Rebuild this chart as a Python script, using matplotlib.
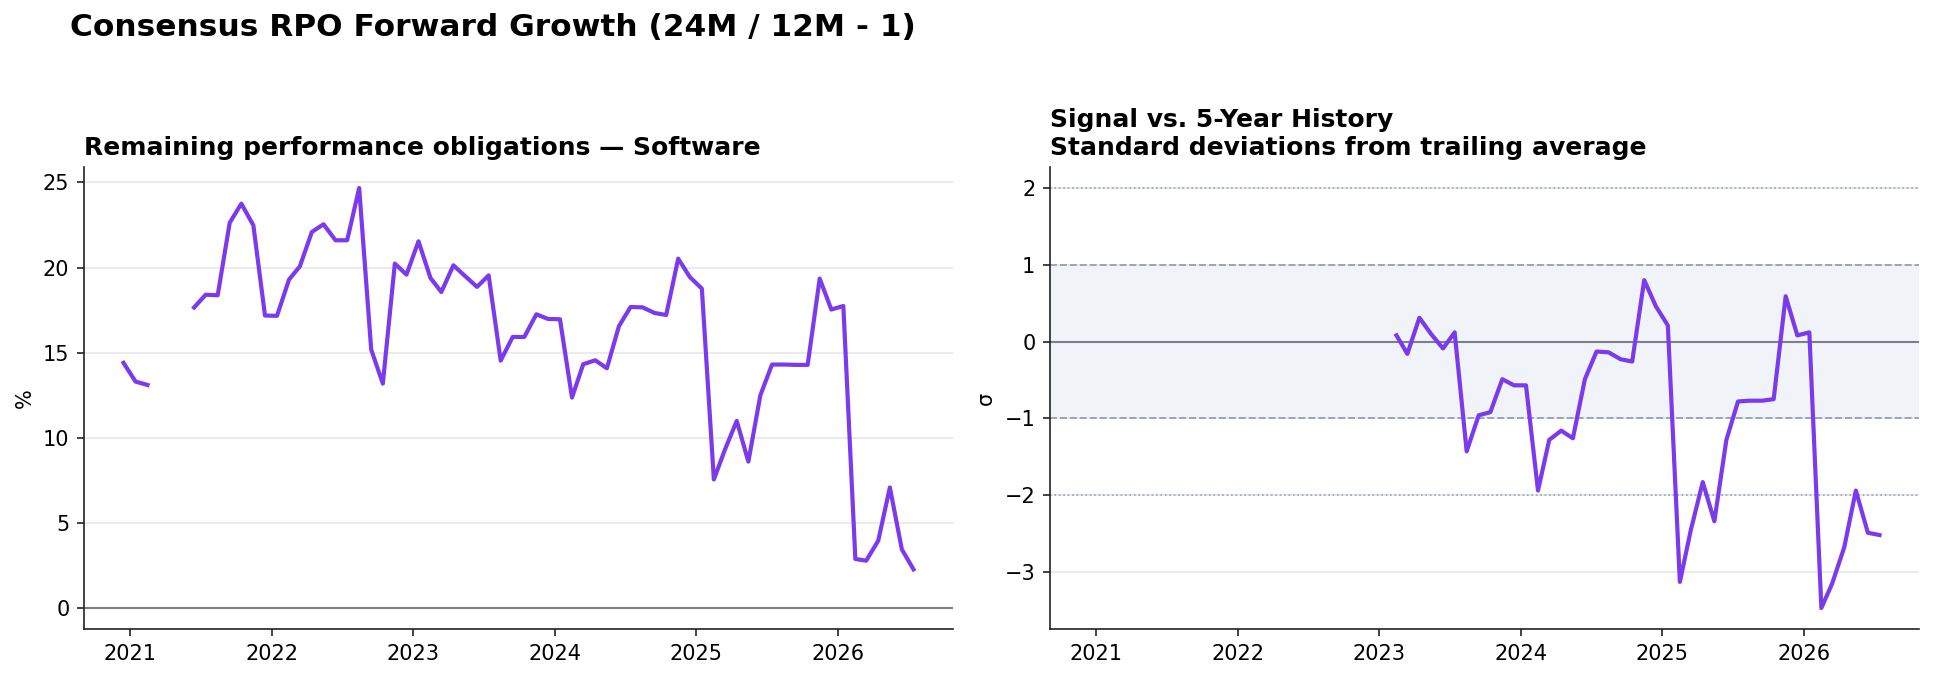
import numpy as np
import pandas as pd
import matplotlib
matplotlib.use("Agg")
import matplotlib.pyplot as plt
import matplotlib.dates as mdates

# ---- data ----
nan = np.nan
rpo_months = pd.date_range("2020-12-01", "2026-07-01", freq="MS") + pd.Timedelta(days=14)
rpo_growth = [
    14.4,
    13.3, 13.1, nan, nan, nan, 17.65, 18.4, 18.37, 22.63, 23.75, 22.48, 17.18,
    17.16, 19.29, 20.07, 22.09, 22.54, 21.6, 21.6, 24.67, 15.18, 13.18, 20.23, 19.58,
    21.54, 19.38, 18.56, 20.13, 19.5, 18.86, 19.54, 14.53, 15.92, 15.92, 17.25, 16.98,
    16.96, 12.36, 14.32, 14.55, 14.08, 16.55, 17.68, 17.66, 17.33, 17.21, 20.52, 19.44,
    18.76, 7.55, 9.27, 10.99, 8.6, 12.5, 14.3, 14.3, 14.28, 14.28, 19.35, 17.53,
    17.74, 2.88, 2.78, 3.95, 7.08, 3.44, 2.27,
]
z_months = pd.date_range("2023-02-01", "2026-07-01", freq="MS") + pd.Timedelta(days=14)
z_score = [
    0.08, -0.16, 0.31, 0.10, -0.09, 0.12, -1.43, -0.96, -0.92, -0.49, -0.57,
    -0.57, -1.94, -1.28, -1.16, -1.26, -0.49, -0.13, -0.14, -0.23, -0.26, 0.80, 0.46,
    0.21, -3.13, -2.46, -1.83, -2.34, -1.28, -0.78, -0.77, -0.77, -0.75, 0.59, 0.08,
    0.12, -3.47, -3.15, -2.68, -1.94, -2.49, -2.52,
]

main_title = "Consensus RPO Forward Growth (24M / 12M - 1)"
left_title = "Remaining performance obligations \u2014 Software"
right_title = "Signal vs. 5-Year History\nStandard deviations from trailing average"

PURPLE = "#7c3aed"
ZERO = "#7b7f8c"
BAND = "#94a3b8"
GRID = "#e5e7eb"

W, H, DPI = 1934, 679, 150
fig = plt.figure(figsize=(W / DPI, H / DPI), dpi=DPI)

def frac_axes(x0, x1, y0, y1, **kw):
    return fig.add_axes([x0 / W, 1 - y1 / H, (x1 - x0) / W, (y1 - y0) / H], **kw)

ax1 = frac_axes(84, 953, 167, 629)
ax2 = frac_axes(1050, 1919, 167, 629, sharex=ax1)

for ax in (ax1, ax2):
    ax.spines["top"].set_visible(False)
    ax.spines["right"].set_visible(False)
    ax.spines["left"].set_color("#222222")
    ax.spines["bottom"].set_color("#222222")
    ax.grid(axis="y", color=GRID, linewidth=0.8)
    ax.grid(axis="x", visible=False)
    ax.set_axisbelow(True)
    ax.tick_params(labelsize=10, colors="#222222", labelcolor="black")

# Left panel
ax1.axhline(0, color=ZERO, linewidth=1.0, zorder=2)
ax1.plot(rpo_months, rpo_growth, color=PURPLE, linewidth=2.0, zorder=3)
ax1.set_ylabel("%", fontsize=10)
ax1.set_title(left_title, loc="left", fontsize=12, fontweight="bold")

# Right panel
ax2.axhspan(-1, 1, color="#f0f3f8", zorder=0, linewidth=0)
ax2.axhline(0, color=ZERO, linewidth=1.0, zorder=2)
for v in (1, -1):
    ax2.axhline(v, color=BAND, linewidth=0.9, linestyle="--", zorder=2)
for v in (2, -2):
    ax2.axhline(v, color=BAND, linewidth=0.8, linestyle=":", zorder=2)
ax2.plot(z_months, z_score, color=PURPLE, linewidth=2.0, zorder=3)
ax2.set_ylabel("\u03c3", fontsize=10)
ax2.set_title(right_title, loc="left", fontsize=12, fontweight="bold")

ax1.xaxis.set_major_locator(mdates.YearLocator())
ax1.xaxis.set_major_formatter(mdates.DateFormatter("%Y"))

fig.text(70 / W, 1 - 36.5 / H, main_title, fontsize=15, fontweight="bold",
         ha="left", va="baseline")

fig.savefig("out.png", dpi=DPI)
